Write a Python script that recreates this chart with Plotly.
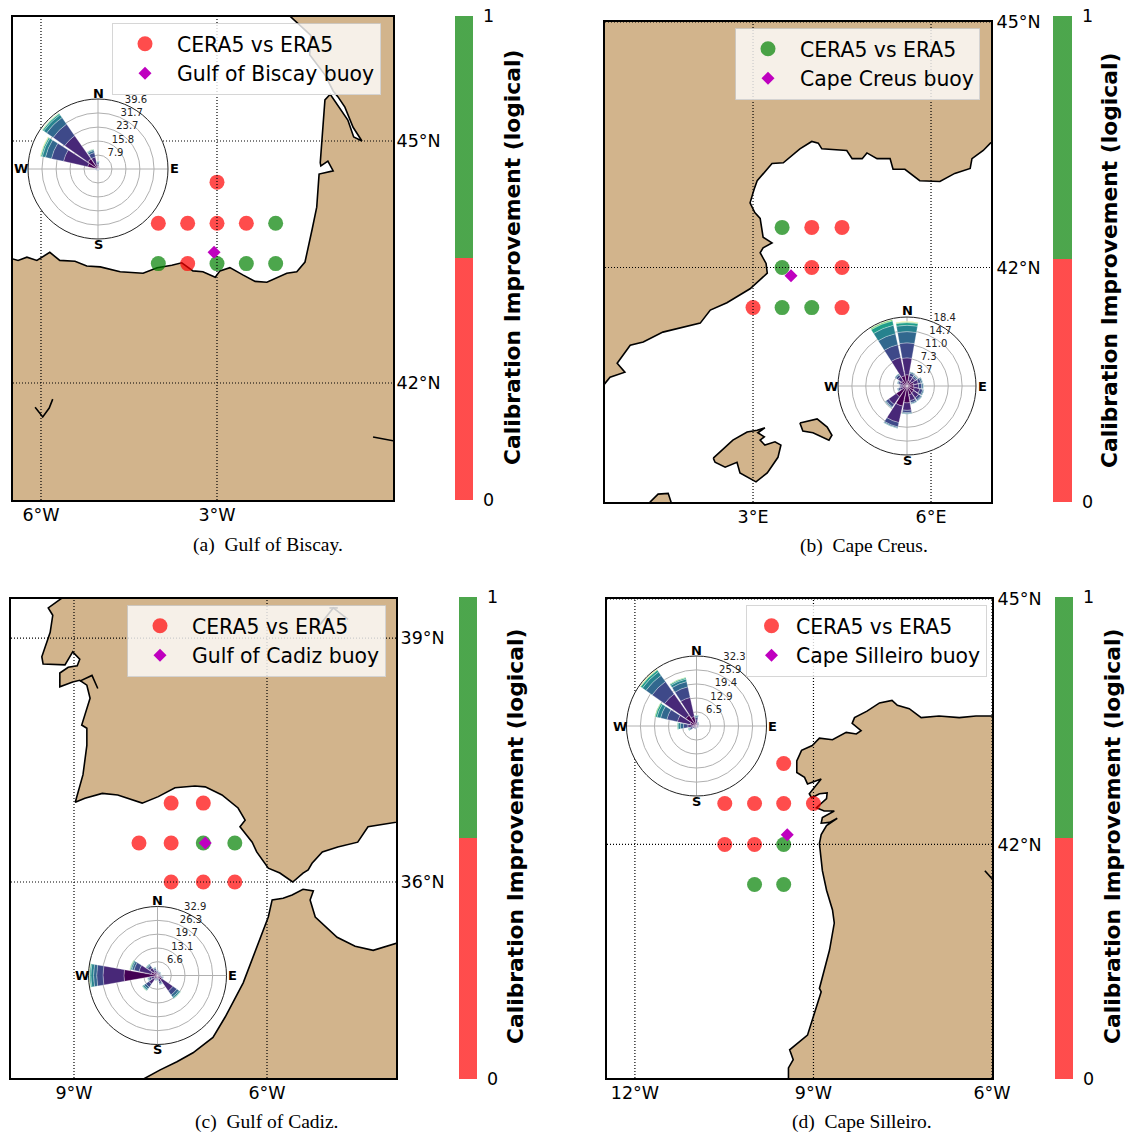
import plotly.graph_objects as go

W, H = 1126, 1136
TAN = "#d2b48c"
RED = "rgba(255,0,0,0.7)"
GREEN = "rgba(0,128,0,0.7)"
BUOY = "#bf00bf"
FONT = "DejaVu Sans"

directions = [0, 22.5, 45, 67.5, 90, 112.5, 135, 157.5, 180, 202.5, 225, 247.5, 270, 292.5, 315, 337.5]
bin_colors = ["#440154", "#482878", "#3e4989", "#31688e", "#26828e", "#1f9e89", "#6ece58", "#fde725"]
compass_labels = ["N", "E", "S", "W"]
compass_angles = [0, 90, 180, 270]
series_name = "CERA5 vs ERA5"
bar_title = "Calibration Improvement (logical)"

# ---------- (a) Gulf of Biscay ----------
a_land_lon = [-6.6, -6.49, -6.39, -6.24, -6.07, -5.98, -5.85, -5.68, -5.42, -5.22, -4.99, -4.65, -4.26, -4.02, -3.77, -3.60, -3.41, -3.24, -3.03, -2.95, -2.78, -2.56, -2.35, -2.15, -1.81, -1.64, -1.50, -1.38, -1.30, -1.26, -1.02, -1.11, -1.23, -1.24, -1.16, -1.07, -0.77, -0.67, -0.53, -0.68, -0.82, -0.94, -1.02, -1.16, -1.42, -1.40, -1.59, -1.76, -1.9, 0.2, 0.2, -6.6]
a_land_lat = [43.54, 43.54, 43.52, 43.56, 43.52, 43.56, 43.62, 43.52, 43.51, 43.45, 43.44, 43.38, 43.36, 43.43, 43.46, 43.49, 43.39, 43.38, 43.31, 43.39, 43.43, 43.34, 43.26, 43.25, 43.36, 43.38, 43.50, 43.90, 44.18, 44.59, 44.63, 44.75, 44.69, 44.73, 45.51, 45.58, 45.26, 45.05, 45.00, 45.17, 45.42, 45.55, 45.62, 45.82, 46.07, 46.31, 46.44, 46.55, 46.7, 46.7, 40.4, 40.4]
a_rivers_lon = [-6.10, -5.97, -5.86, -5.80, None, -0.34, -0.02, 0.1]
a_rivers_lat = [41.70, 41.58, 41.69, 41.80, None, 41.33, 41.28, 41.27]
a_point_lon = [-3.0, -4.0, -3.5, -3.0, -2.5, -2.0, -4.0, -3.5, -3.0, -2.5, -2.0]
a_point_lat = [44.49, 43.98, 43.98, 43.98, 43.98, 43.98, 43.48, 43.48, 43.48, 43.48, 43.48]
a_point_improved = [0, 0, 0, 0, 0, 1, 1, 0, 1, 1, 1]
a_buoy_lon = [-3.05]
a_buoy_lat = [43.62]
a_buoy_name = "Gulf of Biscay buoy"
a_xticks = [-6, -3]
a_xticklabels = ["6°W", "3°W"]
a_yticks = [42, 45]
a_yticklabels = ["42°N", "45°N"]
a_caption = "(a)  Gulf of Biscay."
a_rmax = 39.6
a_rticks = [7.9, 15.8, 23.7, 31.7, 39.6]
a_bins = [
    [1.0, 0.5, 0.4, 0.3, 0.3, 0.3, 0.3, 0.3, 0.4, 0.4, 0.4, 0.5, 0.7, 6.0, 7.0, 2.5],
    [1.5, 0.5, 0.3, 0.3, 0.3, 0.3, 0.3, 0.3, 0.3, 0.3, 0.3, 0.4, 0.6, 14.0, 16.0, 4.5],
    [1.0, 0.3, 0.2, 0.1, 0.1, 0.1, 0.1, 0.1, 0.2, 0.2, 0.2, 0.2, 0.4, 7.0, 8.0, 2.5],
    [0.6, 0.2, 0.1, 0.1, 0.1, 0.1, 0.1, 0.1, 0.1, 0.1, 0.1, 0.1, 0.2, 3.5, 4.5, 1.2],
    [0.3, 0, 0, 0, 0, 0, 0, 0, 0, 0, 0, 0, 0.1, 1.8, 2.0, 0.6],
    [0.1, 0, 0, 0, 0, 0, 0, 0, 0, 0, 0, 0, 0, 0.8, 0.8, 0.2],
    [0, 0, 0, 0, 0, 0, 0, 0, 0, 0, 0, 0, 0, 0.4, 0.3, 0.1],
    [0, 0, 0, 0, 0, 0, 0, 0, 0, 0, 0, 0, 0, 0.1, 0.1, 0],
]

# ---------- (b) Cape Creus ----------
b_land_lon = [0.3, 0.51, 0.59, 0.84, 0.71, 0.93, 1.15, 1.48, 2.11, 2.28, 2.56, 2.95, 3.24, 3.22, 3.12, 3.17, 3.32, 3.17, 3.12, 3.03, 2.95, 3.02, 3.07, 3.32, 3.51, 3.79, 3.99, 4.10, 4.16, 4.58, 4.67, 4.84, 4.92, 5.09, 5.31, 5.36, 5.56, 5.81, 6.15, 6.40, 6.66, 6.69, 6.88, 7.0, 7.2, 7.2, 0.3, 0.3, None,
              2.33, 2.66, 2.90, 3.07, 3.20, 3.08, 3.19, 3.12, 3.20, 3.37, 3.47, 3.42, 3.24, 3.05, 2.78, 2.73, 2.53, 2.36, 2.33, None,
              3.79, 4.08, 4.25, 4.33, 4.28, 4.01, 3.84, 3.79, None,
              1.26, 1.40, 1.57, 1.62, 1.62, 1.26]
b_land_lat = [40.4, 40.59, 40.66, 40.72, 40.83, 41.05, 41.09, 41.21, 41.32, 41.48, 41.57, 41.74, 41.93, 42.05, 42.18, 42.24, 42.30, 42.37, 42.60, 42.67, 42.79, 42.96, 43.06, 43.27, 43.28, 43.45, 43.54, 43.52, 43.45, 43.43, 43.33, 43.33, 43.40, 43.33, 43.33, 43.20, 43.20, 43.06, 43.05, 43.15, 43.21, 43.33, 43.43, 43.52, 43.6, 45.2, 45.2, 40.4, None,
              39.67, 39.89, 39.99, 40.01, 40.04, 39.98, 39.93, 39.89, 39.83, 39.87, 39.83, 39.68, 39.49, 39.38, 39.49, 39.62, 39.56, 39.62, 39.67, None,
              40.10, 40.15, 40.05, 39.95, 39.89, 39.98, 40.00, 40.10, None,
              39.13, 39.23, 39.24, 39.13, 39.0, 39.0]
b_point_lon = [3.49, 3.99, 4.5, 3.49, 3.99, 4.5, 3.0, 3.49, 3.99, 4.5]
b_point_lat = [42.49, 42.49, 42.49, 42.0, 42.0, 42.0, 41.51, 41.51, 41.51, 41.51]
b_point_improved = [1, 0, 0, 1, 0, 0, 0, 1, 1, 0]
b_buoy_lon = [3.64]
b_buoy_lat = [41.90]
b_buoy_name = "Cape Creus buoy"
b_xticks = [3, 6]
b_xticklabels = ["3°E", "6°E"]
b_yticks = [42, 45]
b_yticklabels = ["42°N", "45°N"]
b_caption = "(b)  Cape Creus."
b_rmax = 18.4
b_rticks = [3.7, 7.3, 11.0, 14.7, 18.4]
b_bins = [
    [3.0, 1.5, 1.5, 1.8, 1.8, 2.0, 2.2, 2.4, 4.5, 5.5, 3.5, 1.2, 1.0, 1.2, 1.8, 2.8],
    [4.5, 1.3, 1.1, 1.3, 1.3, 1.5, 1.6, 1.6, 2.0, 4.5, 2.5, 0.8, 0.6, 0.8, 1.2, 5.0],
    [4.0, 0.7, 0.5, 0.7, 0.8, 0.8, 0.7, 0.6, 0.6, 1.2, 0.8, 0.4, 0.3, 0.4, 0.6, 3.5],
    [3.0, 0.3, 0.3, 0.4, 0.4, 0.3, 0.3, 0.3, 0.3, 0.3, 0.3, 0.2, 0.1, 0.2, 0.3, 3.0],
    [1.7, 0.1, 0.1, 0.1, 0.1, 0.1, 0.1, 0.1, 0.1, 0.1, 0.1, 0.1, 0, 0.1, 0.1, 2.3],
    [0.7, 0, 0, 0, 0, 0, 0, 0, 0, 0, 0, 0, 0, 0, 0, 1.2],
    [0.2, 0, 0, 0, 0, 0, 0, 0, 0, 0, 0, 0, 0, 0, 0, 0.3],
    [0.1, 0, 0, 0, 0, 0, 0, 0, 0, 0, 0, 0, 0, 0, 0, 0],
]

# ---------- (c) Gulf of Cadiz ----------
c_land_lon = [-9.12, -9.19, -9.40, -9.33, -9.37, -9.50, -9.48, -9.14, -9.02, -8.91, -8.95, -9.09, -9.22, -9.22, -9.02, -8.91, -8.80, -8.75, -8.88, -8.80, -8.80, -8.86, -8.98, -8.83, -8.56, -8.32, -7.94, -7.69, -7.43, -7.12, -6.96, -6.70, -6.45, -6.34, -6.42, -6.23, -6.16, -5.98, -5.80, -5.60, -5.44, -5.36, -5.30, -5.14, -4.90, -4.59, -4.43, -4.01, -3.8, -3.8, -9.12, None,
              -8.1, -7.66, -7.40, -7.15, -6.84, -6.65, -6.37, -6.16, -5.98, -5.92, -5.75, -5.61, -5.44, -5.28, -5.33, -5.25, -4.91, -4.63, -4.35, -3.98, -3.8, -3.8, -8.1]
c_land_lat = [39.6, 39.49, 39.37, 39.28, 39.07, 38.77, 38.68, 38.67, 38.83, 38.74, 38.66, 38.64, 38.57, 38.40, 38.46, 38.48, 38.42, 38.26, 37.93, 37.89, 37.68, 37.32, 36.98, 37.03, 37.09, 37.07, 36.97, 37.05, 37.16, 37.18, 37.17, 37.07, 36.91, 36.76, 36.68, 36.49, 36.37, 36.17, 36.11, 36.00, 36.11, 36.15, 36.23, 36.37, 36.43, 36.49, 36.68, 36.73, 36.76, 39.6, 39.6, None,
              33.5, 33.69, 33.79, 33.90, 34.09, 34.34, 34.76, 35.20, 35.57, 35.78, 35.80, 35.84, 35.91, 35.89, 35.78, 35.57, 35.32, 35.21, 35.16, 35.25, 35.28, 33.5, 33.5]
c_rivers_lon = [-5.18, -4.97, -4.74, None, -5.03, -4.90, None, -8.91, -8.72, -8.63]
c_rivers_lat = [39.16, 39.37, 39.23, None, 39.37, 39.37, None, 38.47, 38.54, 38.38]
c_point_lon = [-7.49, -6.99, -7.99, -7.49, -6.99, -6.50, -7.49, -6.99, -6.50]
c_point_lat = [36.97, 36.97, 36.48, 36.48, 36.48, 36.48, 36.0, 36.0, 36.0]
c_point_improved = [0, 0, 0, 0, 1, 1, 0, 0, 0]
c_buoy_lon = [-6.96]
c_buoy_lat = [36.48]
c_buoy_name = "Gulf of Cadiz buoy"
c_xticks = [-9, -6]
c_xticklabels = ["9°W", "6°W"]
c_yticks = [36, 39]
c_yticklabels = ["36°N", "39°N"]
c_caption = "(c)  Gulf of Cadiz."
c_rmax = 32.9
c_rticks = [6.6, 13.1, 19.7, 26.3, 32.9]
c_bins = [
    [0.8, 0.6, 0.6, 0.5, 0.6, 1.0, 2.5, 1.5, 0.8, 0.8, 2.0, 1.5, 16.0, 3.0, 2.0, 1.2],
    [0.8, 0.6, 0.6, 0.5, 0.7, 1.0, 6.5, 1.5, 0.8, 0.8, 3.0, 1.7, 10.0, 6.0, 2.5, 1.4],
    [0.5, 0.4, 0.4, 0.3, 0.4, 0.6, 2.3, 0.9, 0.5, 0.5, 1.8, 1.0, 3.0, 2.5, 1.2, 0.8],
    [0.3, 0.3, 0.3, 0.2, 0.2, 0.3, 1.2, 0.4, 0.3, 0.3, 1.1, 0.5, 1.5, 1.0, 0.6, 0.4],
    [0.1, 0.1, 0.1, 0, 0.1, 0.1, 0.7, 0.2, 0.1, 0.1, 0.7, 0.2, 1.3, 0.6, 0.3, 0.2],
    [0, 0, 0, 0, 0, 0, 0.3, 0, 0, 0, 0.3, 0.1, 0.6, 0.3, 0.1, 0],
    [0, 0, 0, 0, 0, 0, 0.1, 0, 0, 0, 0.1, 0, 0.2, 0.2, 0, 0],
    [0, 0, 0, 0, 0, 0, 0, 0, 0, 0, 0, 0, 0.1, 0, 0, 0],
]

# ---------- (d) Cape Silleiro ----------
d_land_lon = [-9.42, -9.42, -9.34, -9.40, -9.10, -9.00, -8.87, -8.90, -8.73, -8.65, -8.68, -8.78, -8.85, -8.90, -8.87, -8.78, -8.60, -8.73, -8.87, -8.85, -8.65, -8.82, -8.95, -8.78, -8.77, -8.90, -9.03, -9.07, -8.87, -9.10, -9.15, -9.28, -9.28, -9.20, -9.02, -8.90, -8.68, -8.45, -8.28, -8.20, -8.35, -8.31, -8.10, -7.89, -7.68, -7.59, -7.39, -7.19, -6.89, -6.55, -6.27, -6.00, -5.8, -5.8, -9.42]
d_land_lat = [39.0, 39.27, 39.37, 39.49, 39.67, 39.91, 40.20, 40.24, 40.71, 41.04, 41.20, 41.44, 41.68, 42.01, 42.12, 42.23, 42.32, 42.27, 42.26, 42.33, 42.41, 42.41, 42.45, 42.56, 42.63, 42.62, 42.57, 42.62, 42.80, 42.74, 42.82, 42.88, 43.02, 43.15, 43.21, 43.30, 43.28, 43.37, 43.35, 43.39, 43.48, 43.55, 43.63, 43.73, 43.76, 43.70, 43.66, 43.55, 43.57, 43.55, 43.57, 43.57, 43.58, 39.0, 39.0]
d_rivers_lon = [-6.12, -6.0]
d_rivers_lat = [41.68, 41.58]
d_point_lon = [-9.50, -10.49, -9.99, -9.50, -9.0, -10.49, -9.99, -9.50, -9.99, -9.50]
d_point_lat = [42.99, 42.5, 42.5, 42.5, 42.5, 42.0, 42.0, 42.0, 41.51, 41.51]
d_point_improved = [0, 0, 0, 0, 0, 0, 0, 1, 1, 1]
d_buoy_lon = [-9.44]
d_buoy_lat = [42.12]
d_buoy_name = "Cape Silleiro buoy"
d_xticks = [-12, -9, -6]
d_xticklabels = ["12°W", "9°W", "6°W"]
d_yticks = [42, 45]
d_yticklabels = ["42°N", "45°N"]
d_caption = "(d)  Cape Silleiro."
d_rmax = 32.3
d_rticks = [6.5, 12.9, 19.4, 25.9, 32.3]
d_bins = [
    [1.2, 0.6, 0.5, 0.4, 0.4, 0.4, 0.4, 0.4, 0.4, 0.5, 0.5, 1.0, 1.5, 3.0, 6.0, 4.5],
    [1.6, 0.6, 0.5, 0.3, 0.3, 0.3, 0.3, 0.3, 0.3, 0.5, 0.5, 1.0, 2.5, 6.0, 12.0, 9.0],
    [1.1, 0.4, 0.3, 0.2, 0.2, 0.2, 0.2, 0.2, 0.2, 0.3, 0.3, 0.9, 2.0, 5.0, 7.0, 5.0],
    [0.7, 0.3, 0.2, 0.1, 0.1, 0.1, 0.1, 0.1, 0.1, 0.2, 0.2, 0.6, 1.5, 3.0, 3.5, 2.5],
    [0.3, 0.1, 0, 0, 0, 0, 0, 0, 0, 0, 0, 0.3, 1.0, 1.7, 2.0, 1.2],
    [0.1, 0, 0, 0, 0, 0, 0, 0, 0, 0, 0, 0.2, 0.4, 0.8, 1.0, 0.6],
    [0, 0, 0, 0, 0, 0, 0, 0, 0, 0, 0, 0, 0.1, 0.3, 0.3, 0.2],
    [0, 0, 0, 0, 0, 0, 0, 0, 0, 0, 0, 0, 0, 0, 0.1, 0],
]

panels = [
    dict(land=(a_land_lon, a_land_lat), rivers=(a_rivers_lon, a_rivers_lat),
         pts=(a_point_lon, a_point_lat, a_point_improved), buoy=(a_buoy_lon, a_buoy_lat, a_buoy_name),
         xt=(a_xticks, a_xticklabels), yt=(a_yticks, a_yticklabels), cap=a_caption,
         rmax=a_rmax, rt=a_rticks, bins=a_bins, ystand=-2, itemw=54,
         frame=(13, 393, 17, 500), xr=(-6.477, 0.0), yr=(40.55, 46.537),
         rose=(98, 169, 70), legend=(112, 23), cbar=(455, 18, 16, 500), cap_xy=(268, 545), title_xy=(512, 258)),
    dict(land=(b_land_lon, b_land_lat), rivers=None,
         pts=(b_point_lon, b_point_lat, b_point_improved), buoy=(b_buoy_lon, b_buoy_lat, b_buoy_name),
         xt=(b_xticks, b_xticklabels), yt=(b_yticks, b_yticklabels), cap=b_caption,
         rmax=b_rmax, rt=b_rticks, bins=b_bins, ystand=0, itemw=54,
         frame=(605, 991, 22, 502), xr=(0.505, 7.011), yr=(39.134, 45.0),
         rose=(907, 386, 69), legend=(735, 28), cbar=(1053, 19, 16, 502), cap_xy=(864, 546), title_xy=(1110, 261)),
    dict(land=(c_land_lon, c_land_lat), rivers=(c_rivers_lon, c_rivers_lat),
         pts=(c_point_lon, c_point_lat, c_point_improved), buoy=(c_buoy_lon, c_buoy_lat, c_buoy_name),
         xt=(c_xticks, c_xticklabels), yt=(c_yticks, c_yticklabels), cap=c_caption,
         rmax=c_rmax, rt=c_rticks, bins=c_bins, ystand=-1, itemw=54,
         frame=(11, 396, 599, 1078), xr=(-9.979, -3.995), yr=(33.59, 39.48),
         rose=(157.5, 975.5, 69), legend=(127, 605), cbar=(459, 18, 597, 1079), cap_xy=(267, 1122), title_xy=(515, 837)),
    dict(land=(d_land_lon, d_land_lat), rivers=(d_rivers_lon, d_rivers_lat),
         pts=(d_point_lon, d_point_lat, d_point_improved), buoy=(d_buoy_lon, d_buoy_lat, d_buoy_name),
         xt=(d_xticks, d_xticklabels), yt=(d_yticks, d_yticklabels), cap=d_caption,
         rmax=d_rmax, rt=d_rticks, bins=d_bins, ystand=0, itemw=39,
         frame=(607, 992, 599, 1078), xr=(-12.469, -6.0), yr=(39.146, 45.0),
         rose=(696.5, 726, 70), legend=(746, 605), cbar=(1055, 18, 597, 1079), cap_xy=(862, 1122), title_xy=(1112, 837)),
]


def fx(px):
    return px / W


def fy(px):
    return 1 - px / H


fig = go.Figure()
layout = dict(
    width=W, height=H, autosize=False, paper_bgcolor="white", plot_bgcolor="white",
    margin=dict(l=0, r=0, t=0, b=0, pad=0, autoexpand=False),
    font=dict(family=FONT, color="black"), annotations=[], hovermode=False,
)

for i, p in enumerate(panels, start=1):
    sfx = "" if i == 1 else str(i)
    xa, ya = f"x{sfx}", f"y{sfx}"
    leg = f"legend{sfx}"
    (x0, x1, y0, y1) = p["frame"]
    xr, yr = p["xr"], p["yr"]

    fig.add_trace(go.Scatter(x=p["land"][0], y=p["land"][1], mode="lines", fill="toself", fillcolor=TAN,
                             line=dict(color="black", width=1.6), xaxis=xa, yaxis=ya, showlegend=False))
    if p["rivers"]:
        fig.add_trace(go.Scatter(x=p["rivers"][0], y=p["rivers"][1], mode="lines",
                                 line=dict(color="black", width=1.6), xaxis=xa, yaxis=ya, showlegend=False))

    lon, lat, improved = p["pts"]
    fig.add_trace(go.Scatter(
        x=lon, y=lat, mode="markers", name=series_name, xaxis=xa, yaxis=ya, legend=leg,
        marker=dict(size=15, color=[GREEN if v else RED for v in improved], line=dict(width=0))))
    # empty trace that carries the colour bar of the logical improvement
    fig.add_trace(go.Scatter(
        x=[None, None], y=[None, None], mode="markers", xaxis=xa, yaxis=ya, showlegend=False,
        marker=dict(color=[0, 1], coloraxis=f"coloraxis{sfx}")))

    # dotted graticule, drawn above the land and the points
    gx, gy = [], []
    for t in p["xt"][0]:
        gx += [t, t, None]
        gy += [yr[0], yr[1], None]
    for t in p["yt"][0]:
        gx += [xr[0], xr[1], None]
        gy += [t, t, None]
    fig.add_trace(go.Scatter(x=gx, y=gy, mode="lines", xaxis=xa, yaxis=ya, showlegend=False,
                             line=dict(color="black", width=1.2, dash="1px,2px")))

    bx, by, bname = p["buoy"]
    fig.add_trace(go.Scatter(x=bx, y=by, mode="markers", name=bname, xaxis=xa, yaxis=ya, legend=leg,
                             marker=dict(size=10, symbol="diamond", color=BUOY, line=dict(width=0))))

    layout[f"xaxis{sfx}"] = dict(
        domain=[fx(x0), fx(x1)], range=list(xr), anchor=ya, tickmode="array", tickvals=p["xt"][0], ticktext=p["xt"][1],
        showgrid=False, zeroline=False, showline=True, mirror=True, linecolor="black", linewidth=2, ticks="",
        ticklabelstandoff=-2, tickfont=dict(size=17.5, family=FONT), fixedrange=True)
    layout[f"yaxis{sfx}"] = dict(
        domain=[fy(y1), fy(y0)], range=list(yr), anchor=xa, side="right", tickmode="array", tickvals=p["yt"][0], ticktext=p["yt"][1],
        showgrid=False, zeroline=False, showline=True, mirror=True, linecolor="black", linewidth=2, ticks="",
        ticklabelstandoff=p["ystand"], tickfont=dict(size=17.5, family=FONT), fixedrange=True)

    lx, ly = p["legend"]
    layout[leg] = dict(x=fx(lx), y=fy(ly), xanchor="left", yanchor="top", bgcolor="rgba(255,255,255,0.8)",
                       bordercolor="rgba(204,204,204,0.8)", borderwidth=1, font=dict(size=20.4, family=FONT),
                       itemwidth=p["itemw"], itemclick=False, itemdoubleclick=False)

    cx, cw, cy0, cy1 = p["cbar"]
    layout[f"coloraxis{sfx}"] = dict(
        cmin=0, cmax=1,
        colorscale=[[0, RED], [0.5, RED], [0.5, GREEN], [1, GREEN]],
        colorbar=dict(
            x=fx(cx), xanchor="left", xpad=0, ypad=0, y=fy(cy1), yanchor="bottom", lenmode="pixels", len=cy1 - cy0,
            thicknessmode="pixels", thickness=cw, outlinewidth=0, tickmode="array", tickvals=[0, 1], ticktext=["0", "1"],
            ticks="outside", ticklen=7, tickcolor="rgba(0,0,0,0)", tickfont=dict(size=17.5, family=FONT)))

    rcx, rcy, rr = p["rose"]
    pol = f"polar{sfx}"
    for vals, col in zip(p["bins"], bin_colors):
        fig.add_trace(go.Barpolar(r=vals, theta=directions, width=20, subplot=pol, showlegend=False,
                                  marker=dict(color=col, line=dict(color="white", width=0.3))))
    layout[pol] = dict(
        domain=dict(x=[fx(rcx - rr), fx(rcx + rr)], y=[fy(rcy + rr), fy(rcy - rr)]),
        bgcolor="white", barmode="stack",
        radialaxis=dict(range=[0, p["rmax"]], tickmode="array", tickvals=p["rt"], ticktext=[f"{v:.1f}<br>&nbsp;" for v in p["rt"]],
                        angle=72, tickangle=72, showline=False, ticks="", gridcolor="#b0b0b0", gridwidth=1,
                        tickfont=dict(size=10, family=FONT, color="#222")),
        angularaxis=dict(rotation=90, direction="clockwise", tickmode="array", tickvals=compass_angles, showticklabels=False,
                         ticks="", linecolor="#222", linewidth=1, gridcolor="#b0b0b0", gridwidth=1),
    )
    # compass letters sit closer to the rim than polar tick labels can
    for label, ang in zip(compass_labels, compass_angles):
        offx = {0: 0, 90: rr + 6, 180: 0, 270: -(rr + 7)}[ang]
        offy = {0: -(rr + 6), 90: 0, 180: rr + 5, 270: 0}[ang]
        layout["annotations"].append(dict(text=f"<b>{label}</b>", x=fx(rcx + offx), y=fy(rcy + offy), xref="paper", yref="paper",
                                          xanchor="center", yanchor="middle", showarrow=False,
                                          font=dict(size=13, family=FONT, color="black")))

    capx, capy = p["cap_xy"]
    layout["annotations"].append(dict(text=p["cap"], x=fx(capx), y=fy(capy), xref="paper", yref="paper",
                                      xanchor="center", yanchor="middle", showarrow=False,
                                      font=dict(size=19.5, family="Liberation Serif", color="black")))
    tx, ty = p["title_xy"]
    layout["annotations"].append(dict(text=f"<b>{bar_title}</b>", x=fx(tx), y=fy(ty), xref="paper", yref="paper",
                                      xanchor="center", yanchor="middle", showarrow=False, textangle=-90,
                                      font=dict(size=21.8, family=FONT, color="black")))

fig.update_layout(**layout)
fig.write_html("out.html", config={"displayModeBar": False}, post_script="document.body.style.margin='0';")
